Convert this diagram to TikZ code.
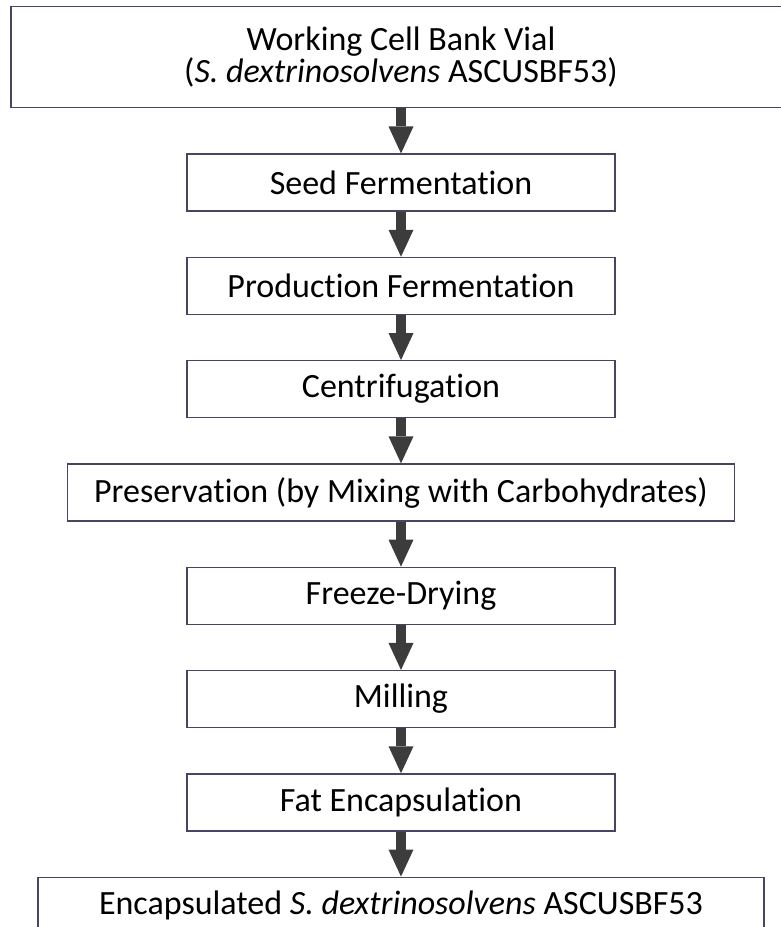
\documentclass[tikz,border=0pt]{standalone}
\usepackage{fontspec}
\setmainfont{Carlito}[Ligatures=NoCommon]
\usetikzlibrary{arrows.meta,positioning}
\definecolor{boxline}{RGB}{70,70,100}
\definecolor{arrowgray}{RGB}{60,60,60}
\tikzset{
  stepbox/.style={draw=boxline,line width=1.3pt,minimum width=428pt,minimum height=57pt,
                  align=center,inner sep=0pt},
  flow/.style={->,draw=arrowgray,fill=arrowgray,line width=10pt}
}
\begin{document}
\begin{tikzpicture}[x=1pt,y=1pt,font=\fontsize{34}{32}\selectfont,node distance=45pt,
                    >={Triangle[length=27pt,width=25pt,line width=0pt]}]
  \useasboundingbox (0,0) rectangle (780,-927);

  \node[stepbox,minimum width=780pt,minimum height=101pt] (vial) at (401,-57.3)
        {Working Cell Bank Vial\\(\textit{S. dextrinosolvens} ASCUSBF53)};
  \node[stepbox,below=of vial] (seed) {Seed Fermentation};
  \node[stepbox,below=of seed] (prod) {Production Fermentation};
  \node[stepbox,below=of prod] (centri) {Centrifugation};
  \node[stepbox,below=of centri,minimum width=667pt] (preserve) {Preservation (by Mixing with Carbohydrates)};
  \node[stepbox,below=of preserve] (freeze) {Freeze-Drying};
  \node[stepbox,below=of freeze] (mill) {Milling};
  \node[stepbox,below=of mill] (fat) {Fat Encapsulation};
  \node[stepbox,below=of fat,minimum width=726pt] (final)
        {Encapsulated \textit{S. dextrinosolvens} ASCUSBF53};

  \draw[flow] (vial) -- (seed);
  \draw[flow] (seed) -- (prod);
  \draw[flow] (prod) -- (centri);
  \draw[flow] (centri) -- (preserve);
  \draw[flow] (preserve) -- (freeze);
  \draw[flow] (freeze) -- (mill);
  \draw[flow] (mill) -- (fat);
  \draw[flow] (fat) -- (final);

\end{tikzpicture}
\end{document}
